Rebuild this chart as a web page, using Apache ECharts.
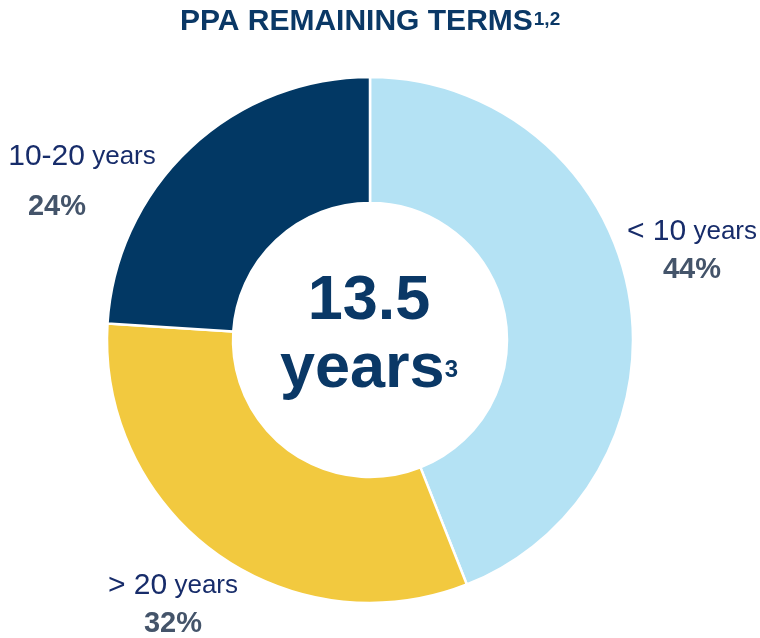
<!DOCTYPE html>
<html>
<head>
<meta charset="utf-8">
<script src="https://cdn.jsdelivr.net/npm/echarts@6/dist/echarts.min.js"></script>
<style>
  html, body { margin: 0; padding: 0; background: #fff; }
  #chart { width: 760px; height: 638px; }
</style>
</head>
<body>
<div id="chart"></div>
<script>
// 数据
const categories = ['< 10 years', '> 20 years', '10-20 years']
const shares = [44, 32, 24]
const avgTerm = '13.5'

const colors = ['#b4e2f4', '#f2c93f', '#023864']
// 标签位置（x, y）
const labelPos = [[692, 251], [173, 605], [82, 182]]

const font = '"Liberation Sans", Arial, sans-serif'
const navy = '#0a3866'

const myChart = echarts.init(document.getElementById('chart'))

const option = {
  animation: false,
  title: {
    text: '{a|PPA REMAINING TERMS}{s|1,2}',
    left: 175,
    top: 0,
    textStyle: {
      rich: {
        a: { fontFamily: font, fontSize: 30, fontWeight: 'bold', color: navy, lineHeight: 34 },
        s: { fontFamily: font, fontSize: 19, fontWeight: 'bold', color: navy, lineHeight: 19, padding: [0, 0, 5, 1] }
      }
    }
  },
  graphic: [
    {
      type: 'text',
      x: 369,
      y: 336,
      style: {
        text: '{n|' + avgTerm + '}\n{y|years}{s|3}',
        align: 'center',
        verticalAlign: 'middle',
        rich: {
          n: { fontFamily: font, fontSize: 63, fontWeight: 'bold', fill: navy, lineHeight: 68, align: 'center' },
          y: { fontFamily: font, fontSize: 63, fontWeight: 'bold', fill: navy, lineHeight: 68 },
          s: { fontFamily: font, fontSize: 24, fontWeight: 'bold', fill: navy }
        }
      }
    }
  ],
  series: [
    {
      type: 'pie',
      center: [370, 340],
      radius: [137, 263],
      startAngle: 90,
      clockwise: true,
      avoidLabelOverlap: false,
      itemStyle: { borderColor: '#fff', borderWidth: 2.5 },
      labelLine: { show: false },
      label: {
        show: true,
        position: 'outside',
        formatter: function (p) {
          const num = p.name.replace(' years', '')
          const pk = p.dataIndex === 2 ? 'pl' : 'p'
          const lk = p.dataIndex === 2 ? 'nl' : 'n'
          return '{' + lk + '|' + num + '}{y| years}\n{' + pk + '|' + p.value + '%}'
        },
        rich: {
          n: { fontFamily: font, fontSize: 30, color: '#172c6a', lineHeight: 38, align: 'center' },
          nl: { fontFamily: font, fontSize: 30, color: '#172c6a', lineHeight: 50, align: 'center' },
          y: { fontFamily: font, fontSize: 26, color: '#172c6a', align: 'center' },
          p: { fontFamily: font, fontSize: 29, fontWeight: 'bold', color: '#44546a', lineHeight: 38, align: 'center' },
          pl: { fontFamily: font, fontSize: 29, fontWeight: 'bold', color: '#44546a', lineHeight: 50, align: 'center', padding: [0, 50, 0, 0] }
        }
      },
      labelLayout: function (params) {
        const pos = labelPos[params.dataIndex]
        return { x: pos[0], y: pos[1], align: 'center', verticalAlign: 'middle' }
      },
      data: categories.map((c, i) => ({
        name: c,
        value: shares[i],
        itemStyle: { color: colors[i] }
      }))
    }
  ]
}

myChart.setOption(option)
</script>
</body>
</html>
